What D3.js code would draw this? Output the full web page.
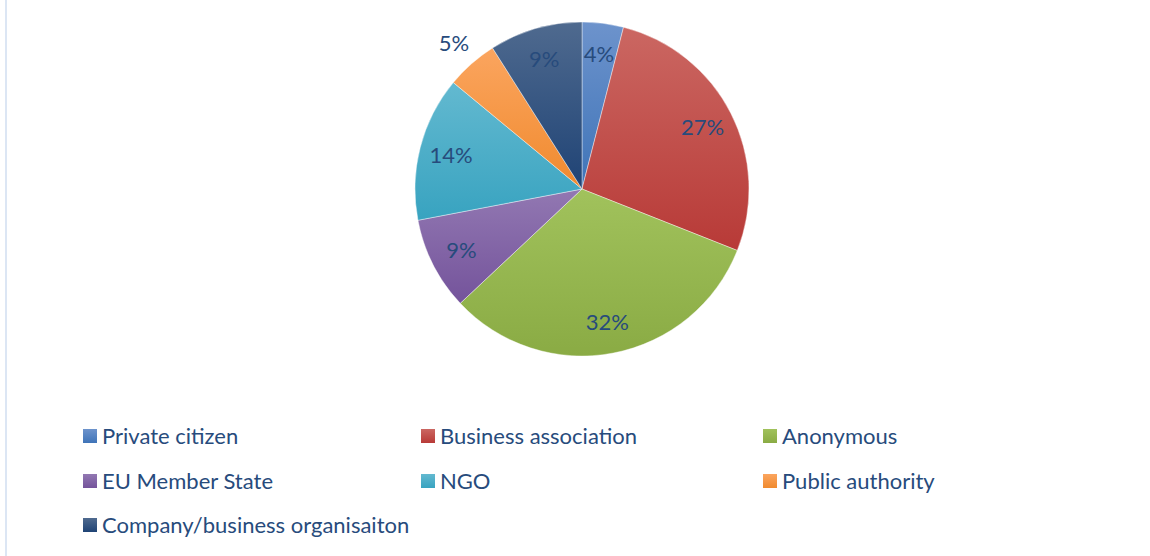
<!DOCTYPE html>
<meta charset="utf-8">
<script src="https://d3js.org/d3.v7.min.js"></script>
<style>
  body { margin: 0; background: #fff; }
  text { font-family: Lato, "Open Sans", sans-serif; fill: #274b7c; }
</style>
<div id="chart"></div>
<script>

// data
var categories = ["Private citizen", "Business association", "Anonymous", "EU Member State", "NGO", "Public authority", "Company/business organisaiton"];
var shares = [4, 27, 32, 9, 14, 5, 9];
var colorsTop = ["#6d93cc", "#cb6762", "#a1c25c", "#9278b2", "#63b9d0", "#fba55f", "#4f6a8f"];
var colorsBottom = ["#3f74b8", "#b83a37", "#8aab44", "#74539b", "#38a3c0", "#f08a2e", "#1f4375"];
var outsideLabels = ["Public authority"];

var width = 1150, height = 556;
var cx = 582, cy = 189, radius = 167;

var svg = d3.select("#chart").append("svg")
    .attr("width", width)
    .attr("height", height);

// left frame line
svg.append("rect")
    .attr("x", 5).attr("y", 0)
    .attr("width", 2).attr("height", height)
    .attr("fill", "#dce6f4");

// gradients
var defs = svg.append("defs");
categories.forEach(function(c, i) {
  var g = defs.append("linearGradient")
      .attr("id", "grad" + i)
      .attr("x1", 0).attr("y1", 0).attr("x2", 0).attr("y2", 1);
  g.append("stop").attr("offset", "0%").attr("stop-color", colorsTop[i]);
  g.append("stop").attr("offset", "100%").attr("stop-color", colorsBottom[i]);
});

var data = categories.map(function(c, i) { return { name: c, value: shares[i], i: i }; });

var pie = d3.pie()
    .value(function(d) { return d.value; })
    .sort(null);

var arc = d3.arc().innerRadius(0).outerRadius(radius);
var labelArc = d3.arc().innerRadius(radius * 0.81).outerRadius(radius * 0.81);
var outerArc = d3.arc().innerRadius(radius * 1.16).outerRadius(radius * 1.16);

var g = svg.append("g")
    .attr("transform", "translate(" + cx + "," + cy + ")");

var arcs = pie(data);

g.selectAll("path")
  .data(arcs)
  .enter().append("path")
    .attr("d", arc)
    .attr("fill", function(d) { return "url(#grad" + d.data.i + ")"; })
    .attr("stroke", "#ffffff")
    .attr("stroke-opacity", 0.5)
    .attr("stroke-width", 0.8);

g.selectAll("text.lbl")
  .data(arcs)
  .enter().append("text")
    .attr("class", "lbl")
    .attr("transform", function(d) {
      var a = outsideLabels.indexOf(d.data.name) >= 0 ? outerArc : labelArc;
      return "translate(" + a.centroid(d) + ")";
    })
    .attr("text-anchor", "middle")
    .attr("dy", "0.35em")
    .style("font-size", "22px")
    .text(function(d) { return d.data.value + "%"; });

// legend
var legendCols = [83, 421, 763];
var legendRows = [436, 481, 525];

var legend = svg.selectAll("g.legend")
  .data(data)
  .enter().append("g")
    .attr("class", "legend")
    .attr("transform", function(d, i) {
      return "translate(" + legendCols[i % 3] + "," + legendRows[Math.floor(i / 3)] + ")";
    });

legend.append("rect")
    .attr("x", 0).attr("y", -7)
    .attr("width", 14).attr("height", 14)
    .attr("fill", function(d) { return "url(#grad" + d.i + ")"; });

legend.append("text")
    .attr("x", 19)
    .attr("dy", "0.35em")
    .style("font-size", "22px")
    .text(function(d) { return d.name; });

</script>
